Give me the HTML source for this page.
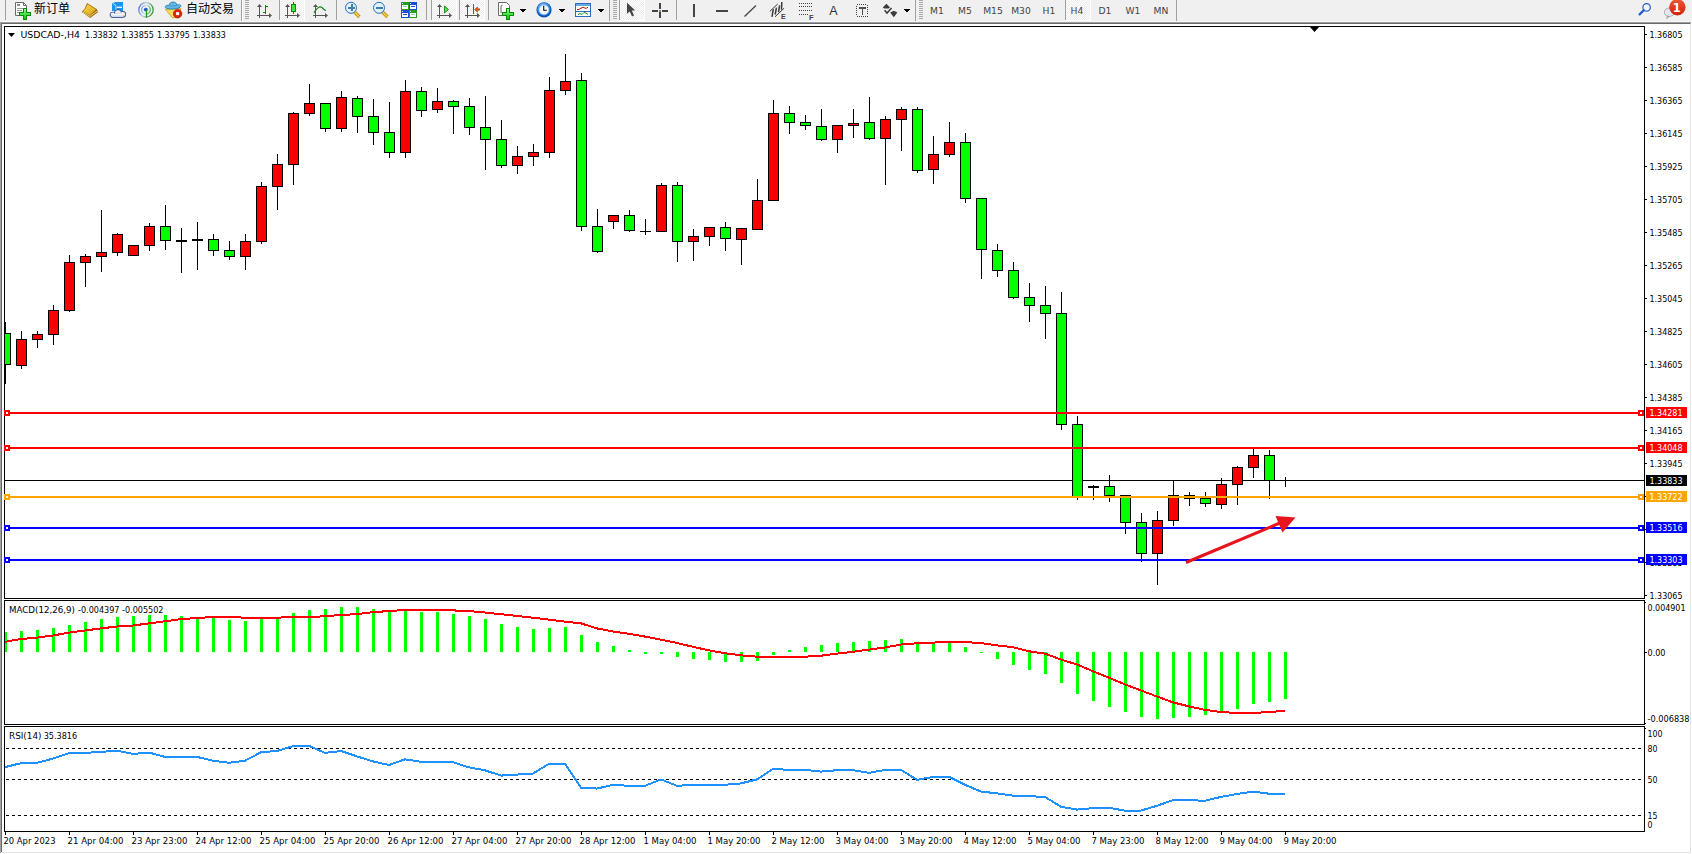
<!DOCTYPE html><html><head><meta charset="utf-8"><title>USDCAD-,H4</title><style>html,body{margin:0;padding:0;background:#fff;overflow:hidden;}svg{display:block;}text{font-family:"DejaVu Sans", "Liberation Sans", sans-serif;font-stretch:condensed;}.t{font-size:9.5px;fill:#000;}.tw{font-size:9.5px;fill:#fff;}.tb{font-size:9.5px;fill:#222;}</style></head><body>
<svg width="1692" height="854" viewBox="0 0 1692 854" shape-rendering="crispEdges">
<rect x="0" y="0" width="1692" height="854" fill="#fff"/>
<rect x="0" y="0" width="1692" height="21" fill="#f0f0f0"/>
<rect x="0" y="21" width="1692" height="1" fill="#f5f5f5"/>
<rect x="0" y="22" width="1691" height="1" fill="#a0a0a0"/>
<rect x="0" y="23" width="1690" height="1" fill="#696969"/>
<rect x="1690" y="23" width="1" height="1" fill="#b0b0b0"/>
<rect x="0" y="22" width="1" height="831" fill="#a0a0a0"/>
<rect x="1" y="23" width="1" height="829" fill="#696969"/>
<rect x="1690" y="24" width="1" height="829" fill="#e3e3e3"/>
<rect x="2" y="852" width="1689" height="1" fill="#e3e3e3"/>
<rect x="4" y="26" width="1641" height="1" fill="#000"/>
<rect x="4" y="598" width="1641" height="1" fill="#000"/>
<rect x="4" y="26" width="1" height="573" fill="#000"/>
<rect x="1644" y="26" width="1" height="573" fill="#000"/>
<rect x="4" y="600" width="1641" height="1" fill="#000"/>
<rect x="4" y="724" width="1641" height="1" fill="#000"/>
<rect x="4" y="600" width="1" height="125" fill="#000"/>
<rect x="1644" y="600" width="1" height="125" fill="#000"/>
<rect x="4" y="726" width="1641" height="1" fill="#000"/>
<rect x="4" y="831" width="1641" height="1" fill="#000"/>
<rect x="4" y="726" width="1" height="106" fill="#000"/>
<rect x="1644" y="726" width="1" height="106" fill="#000"/>
<defs><clipPath id="cm"><rect x="5" y="27" width="1639" height="571"/></clipPath><clipPath id="cd"><rect x="5" y="601" width="1639" height="123"/></clipPath><clipPath id="cr"><rect x="5" y="727" width="1639" height="104"/></clipPath></defs>
<g clip-path="url(#cm)">
<rect x="5" y="480" width="1639" height="1" fill="#000"/>
<rect x="5" y="322" width="1" height="62" fill="#000"/>
<rect x="0" y="333" width="11" height="32" fill="#000"/>
<rect x="1" y="334" width="9" height="30" fill="#00ff00"/>
<rect x="21" y="331" width="1" height="38" fill="#000"/>
<rect x="16" y="339" width="11" height="27" fill="#000"/>
<rect x="17" y="340" width="9" height="25" fill="#ff0000"/>
<rect x="37" y="331" width="1" height="17" fill="#000"/>
<rect x="32" y="334" width="11" height="6" fill="#000"/>
<rect x="33" y="335" width="9" height="4" fill="#ff0000"/>
<rect x="53" y="305" width="1" height="40" fill="#000"/>
<rect x="48" y="310" width="11" height="25" fill="#000"/>
<rect x="49" y="311" width="9" height="23" fill="#ff0000"/>
<rect x="69" y="255" width="1" height="57" fill="#000"/>
<rect x="64" y="262" width="11" height="49" fill="#000"/>
<rect x="65" y="263" width="9" height="47" fill="#ff0000"/>
<rect x="85" y="254" width="1" height="33" fill="#000"/>
<rect x="80" y="256" width="11" height="7" fill="#000"/>
<rect x="81" y="257" width="9" height="5" fill="#ff0000"/>
<rect x="101" y="210" width="1" height="62" fill="#000"/>
<rect x="96" y="252" width="11" height="5" fill="#000"/>
<rect x="97" y="253" width="9" height="3" fill="#ff0000"/>
<rect x="117" y="233" width="1" height="23" fill="#000"/>
<rect x="112" y="234" width="11" height="19" fill="#000"/>
<rect x="113" y="235" width="9" height="17" fill="#ff0000"/>
<rect x="133" y="245" width="1" height="11" fill="#000"/>
<rect x="128" y="245" width="11" height="11" fill="#000"/>
<rect x="129" y="246" width="9" height="9" fill="#ff0000"/>
<rect x="149" y="223" width="1" height="28" fill="#000"/>
<rect x="144" y="226" width="11" height="20" fill="#000"/>
<rect x="145" y="227" width="9" height="18" fill="#ff0000"/>
<rect x="165" y="205" width="1" height="45" fill="#000"/>
<rect x="160" y="226" width="11" height="15" fill="#000"/>
<rect x="161" y="227" width="9" height="13" fill="#00ff00"/>
<rect x="181" y="228" width="1" height="45" fill="#000"/>
<rect x="176" y="240" width="11" height="2" fill="#000"/>
<rect x="197" y="222" width="1" height="48" fill="#000"/>
<rect x="192" y="239" width="11" height="2" fill="#000"/>
<rect x="213" y="234" width="1" height="22" fill="#000"/>
<rect x="208" y="239" width="11" height="12" fill="#000"/>
<rect x="209" y="240" width="9" height="10" fill="#00ff00"/>
<rect x="229" y="241" width="1" height="19" fill="#000"/>
<rect x="224" y="250" width="11" height="7" fill="#000"/>
<rect x="225" y="251" width="9" height="5" fill="#00ff00"/>
<rect x="245" y="234" width="1" height="36" fill="#000"/>
<rect x="240" y="241" width="11" height="16" fill="#000"/>
<rect x="241" y="242" width="9" height="14" fill="#ff0000"/>
<rect x="261" y="182" width="1" height="62" fill="#000"/>
<rect x="256" y="186" width="11" height="56" fill="#000"/>
<rect x="257" y="187" width="9" height="54" fill="#ff0000"/>
<rect x="277" y="154" width="1" height="56" fill="#000"/>
<rect x="272" y="164" width="11" height="23" fill="#000"/>
<rect x="273" y="165" width="9" height="21" fill="#ff0000"/>
<rect x="293" y="112" width="1" height="73" fill="#000"/>
<rect x="288" y="113" width="11" height="52" fill="#000"/>
<rect x="289" y="114" width="9" height="50" fill="#ff0000"/>
<rect x="309" y="84" width="1" height="32" fill="#000"/>
<rect x="304" y="103" width="11" height="11" fill="#000"/>
<rect x="305" y="104" width="9" height="9" fill="#ff0000"/>
<rect x="325" y="103" width="1" height="29" fill="#000"/>
<rect x="320" y="103" width="11" height="26" fill="#000"/>
<rect x="321" y="104" width="9" height="24" fill="#00ff00"/>
<rect x="341" y="91" width="1" height="41" fill="#000"/>
<rect x="336" y="97" width="11" height="32" fill="#000"/>
<rect x="337" y="98" width="9" height="30" fill="#ff0000"/>
<rect x="357" y="96" width="1" height="37" fill="#000"/>
<rect x="352" y="98" width="11" height="19" fill="#000"/>
<rect x="353" y="99" width="9" height="17" fill="#00ff00"/>
<rect x="373" y="99" width="1" height="46" fill="#000"/>
<rect x="368" y="116" width="11" height="17" fill="#000"/>
<rect x="369" y="117" width="9" height="15" fill="#00ff00"/>
<rect x="389" y="102" width="1" height="56" fill="#000"/>
<rect x="384" y="132" width="11" height="21" fill="#000"/>
<rect x="385" y="133" width="9" height="19" fill="#00ff00"/>
<rect x="405" y="80" width="1" height="78" fill="#000"/>
<rect x="400" y="91" width="11" height="62" fill="#000"/>
<rect x="401" y="92" width="9" height="60" fill="#ff0000"/>
<rect x="421" y="87" width="1" height="30" fill="#000"/>
<rect x="416" y="91" width="11" height="20" fill="#000"/>
<rect x="417" y="92" width="9" height="18" fill="#00ff00"/>
<rect x="437" y="88" width="1" height="25" fill="#000"/>
<rect x="432" y="101" width="11" height="9" fill="#000"/>
<rect x="433" y="102" width="9" height="7" fill="#ff0000"/>
<rect x="453" y="100" width="1" height="34" fill="#000"/>
<rect x="448" y="101" width="11" height="6" fill="#000"/>
<rect x="449" y="102" width="9" height="4" fill="#00ff00"/>
<rect x="469" y="98" width="1" height="37" fill="#000"/>
<rect x="464" y="106" width="11" height="22" fill="#000"/>
<rect x="465" y="107" width="9" height="20" fill="#00ff00"/>
<rect x="485" y="96" width="1" height="74" fill="#000"/>
<rect x="480" y="127" width="11" height="13" fill="#000"/>
<rect x="481" y="128" width="9" height="11" fill="#00ff00"/>
<rect x="501" y="120" width="1" height="48" fill="#000"/>
<rect x="496" y="139" width="11" height="27" fill="#000"/>
<rect x="497" y="140" width="9" height="25" fill="#00ff00"/>
<rect x="517" y="146" width="1" height="28" fill="#000"/>
<rect x="512" y="156" width="11" height="10" fill="#000"/>
<rect x="513" y="157" width="9" height="8" fill="#ff0000"/>
<rect x="533" y="144" width="1" height="22" fill="#000"/>
<rect x="528" y="152" width="11" height="5" fill="#000"/>
<rect x="529" y="153" width="9" height="3" fill="#ff0000"/>
<rect x="549" y="77" width="1" height="81" fill="#000"/>
<rect x="544" y="90" width="11" height="63" fill="#000"/>
<rect x="545" y="91" width="9" height="61" fill="#ff0000"/>
<rect x="565" y="54" width="1" height="41" fill="#000"/>
<rect x="560" y="81" width="11" height="10" fill="#000"/>
<rect x="561" y="82" width="9" height="8" fill="#ff0000"/>
<rect x="581" y="73" width="1" height="158" fill="#000"/>
<rect x="576" y="80" width="11" height="147" fill="#000"/>
<rect x="577" y="81" width="9" height="145" fill="#00ff00"/>
<rect x="597" y="209" width="1" height="44" fill="#000"/>
<rect x="592" y="226" width="11" height="26" fill="#000"/>
<rect x="593" y="227" width="9" height="24" fill="#00ff00"/>
<rect x="613" y="215" width="1" height="14" fill="#000"/>
<rect x="608" y="215" width="11" height="7" fill="#000"/>
<rect x="609" y="216" width="9" height="5" fill="#ff0000"/>
<rect x="629" y="210" width="1" height="22" fill="#000"/>
<rect x="624" y="215" width="11" height="16" fill="#000"/>
<rect x="625" y="216" width="9" height="14" fill="#00ff00"/>
<rect x="645" y="219" width="1" height="16" fill="#000"/>
<rect x="640" y="231" width="11" height="1" fill="#000"/>
<rect x="661" y="183" width="1" height="49" fill="#000"/>
<rect x="656" y="185" width="11" height="47" fill="#000"/>
<rect x="657" y="186" width="9" height="45" fill="#ff0000"/>
<rect x="677" y="182" width="1" height="80" fill="#000"/>
<rect x="672" y="185" width="11" height="57" fill="#000"/>
<rect x="673" y="186" width="9" height="55" fill="#00ff00"/>
<rect x="693" y="229" width="1" height="32" fill="#000"/>
<rect x="688" y="236" width="11" height="6" fill="#000"/>
<rect x="689" y="237" width="9" height="4" fill="#ff0000"/>
<rect x="709" y="227" width="1" height="19" fill="#000"/>
<rect x="704" y="227" width="11" height="10" fill="#000"/>
<rect x="705" y="228" width="9" height="8" fill="#ff0000"/>
<rect x="725" y="222" width="1" height="29" fill="#000"/>
<rect x="720" y="227" width="11" height="12" fill="#000"/>
<rect x="721" y="228" width="9" height="10" fill="#00ff00"/>
<rect x="741" y="228" width="1" height="37" fill="#000"/>
<rect x="736" y="228" width="11" height="12" fill="#000"/>
<rect x="737" y="229" width="9" height="10" fill="#ff0000"/>
<rect x="757" y="179" width="1" height="51" fill="#000"/>
<rect x="752" y="200" width="11" height="30" fill="#000"/>
<rect x="753" y="201" width="9" height="28" fill="#ff0000"/>
<rect x="773" y="100" width="1" height="101" fill="#000"/>
<rect x="768" y="113" width="11" height="88" fill="#000"/>
<rect x="769" y="114" width="9" height="86" fill="#ff0000"/>
<rect x="789" y="106" width="1" height="28" fill="#000"/>
<rect x="784" y="113" width="11" height="10" fill="#000"/>
<rect x="785" y="114" width="9" height="8" fill="#00ff00"/>
<rect x="805" y="115" width="1" height="15" fill="#000"/>
<rect x="800" y="122" width="11" height="4" fill="#000"/>
<rect x="801" y="123" width="9" height="2" fill="#00ff00"/>
<rect x="821" y="109" width="1" height="32" fill="#000"/>
<rect x="816" y="126" width="11" height="14" fill="#000"/>
<rect x="817" y="127" width="9" height="12" fill="#00ff00"/>
<rect x="837" y="125" width="1" height="28" fill="#000"/>
<rect x="832" y="125" width="11" height="15" fill="#000"/>
<rect x="833" y="126" width="9" height="13" fill="#ff0000"/>
<rect x="853" y="109" width="1" height="29" fill="#000"/>
<rect x="848" y="123" width="11" height="3" fill="#000"/>
<rect x="849" y="124" width="9" height="1" fill="#ff0000"/>
<rect x="869" y="97" width="1" height="43" fill="#000"/>
<rect x="864" y="122" width="11" height="17" fill="#000"/>
<rect x="865" y="123" width="9" height="15" fill="#00ff00"/>
<rect x="885" y="116" width="1" height="69" fill="#000"/>
<rect x="880" y="119" width="11" height="20" fill="#000"/>
<rect x="881" y="120" width="9" height="18" fill="#ff0000"/>
<rect x="901" y="107" width="1" height="44" fill="#000"/>
<rect x="896" y="109" width="11" height="11" fill="#000"/>
<rect x="897" y="110" width="9" height="9" fill="#ff0000"/>
<rect x="917" y="107" width="1" height="66" fill="#000"/>
<rect x="912" y="109" width="11" height="62" fill="#000"/>
<rect x="913" y="110" width="9" height="60" fill="#00ff00"/>
<rect x="933" y="136" width="1" height="48" fill="#000"/>
<rect x="928" y="154" width="11" height="16" fill="#000"/>
<rect x="929" y="155" width="9" height="14" fill="#ff0000"/>
<rect x="949" y="122" width="1" height="35" fill="#000"/>
<rect x="944" y="142" width="11" height="13" fill="#000"/>
<rect x="945" y="143" width="9" height="11" fill="#ff0000"/>
<rect x="965" y="133" width="1" height="70" fill="#000"/>
<rect x="960" y="142" width="11" height="57" fill="#000"/>
<rect x="961" y="143" width="9" height="55" fill="#00ff00"/>
<rect x="981" y="198" width="1" height="81" fill="#000"/>
<rect x="976" y="198" width="11" height="52" fill="#000"/>
<rect x="977" y="199" width="9" height="50" fill="#00ff00"/>
<rect x="997" y="244" width="1" height="33" fill="#000"/>
<rect x="992" y="250" width="11" height="21" fill="#000"/>
<rect x="993" y="251" width="9" height="19" fill="#00ff00"/>
<rect x="1013" y="262" width="1" height="37" fill="#000"/>
<rect x="1008" y="270" width="11" height="28" fill="#000"/>
<rect x="1009" y="271" width="9" height="26" fill="#00ff00"/>
<rect x="1029" y="283" width="1" height="39" fill="#000"/>
<rect x="1024" y="297" width="11" height="9" fill="#000"/>
<rect x="1025" y="298" width="9" height="7" fill="#00ff00"/>
<rect x="1045" y="286" width="1" height="53" fill="#000"/>
<rect x="1040" y="305" width="11" height="9" fill="#000"/>
<rect x="1041" y="306" width="9" height="7" fill="#00ff00"/>
<rect x="1061" y="292" width="1" height="138" fill="#000"/>
<rect x="1056" y="313" width="11" height="112" fill="#000"/>
<rect x="1057" y="314" width="9" height="110" fill="#00ff00"/>
<rect x="1077" y="416" width="1" height="84" fill="#000"/>
<rect x="1072" y="424" width="11" height="73" fill="#000"/>
<rect x="1073" y="425" width="9" height="71" fill="#00ff00"/>
<rect x="1093" y="485" width="1" height="15" fill="#000"/>
<rect x="1088" y="486" width="11" height="2" fill="#000"/>
<rect x="1109" y="475" width="1" height="27" fill="#000"/>
<rect x="1104" y="486" width="11" height="10" fill="#000"/>
<rect x="1105" y="487" width="9" height="8" fill="#00ff00"/>
<rect x="1125" y="495" width="1" height="39" fill="#000"/>
<rect x="1120" y="495" width="11" height="28" fill="#000"/>
<rect x="1121" y="496" width="9" height="26" fill="#00ff00"/>
<rect x="1141" y="513" width="1" height="49" fill="#000"/>
<rect x="1136" y="522" width="11" height="32" fill="#000"/>
<rect x="1137" y="523" width="9" height="30" fill="#00ff00"/>
<rect x="1157" y="511" width="1" height="74" fill="#000"/>
<rect x="1152" y="520" width="11" height="34" fill="#000"/>
<rect x="1153" y="521" width="9" height="32" fill="#ff0000"/>
<rect x="1173" y="480" width="1" height="46" fill="#000"/>
<rect x="1168" y="495" width="11" height="26" fill="#000"/>
<rect x="1169" y="496" width="9" height="24" fill="#ff0000"/>
<rect x="1189" y="492" width="1" height="14" fill="#000"/>
<rect x="1184" y="495" width="11" height="4" fill="#000"/>
<rect x="1185" y="496" width="9" height="2" fill="#ff0000"/>
<rect x="1205" y="492" width="1" height="15" fill="#000"/>
<rect x="1200" y="498" width="11" height="6" fill="#000"/>
<rect x="1201" y="499" width="9" height="4" fill="#00ff00"/>
<rect x="1221" y="478" width="1" height="31" fill="#000"/>
<rect x="1216" y="484" width="11" height="21" fill="#000"/>
<rect x="1217" y="485" width="9" height="19" fill="#ff0000"/>
<rect x="1237" y="466" width="1" height="39" fill="#000"/>
<rect x="1232" y="467" width="11" height="18" fill="#000"/>
<rect x="1233" y="468" width="9" height="16" fill="#ff0000"/>
<rect x="1253" y="449" width="1" height="29" fill="#000"/>
<rect x="1248" y="455" width="11" height="13" fill="#000"/>
<rect x="1249" y="456" width="9" height="11" fill="#ff0000"/>
<rect x="1269" y="450" width="1" height="49" fill="#000"/>
<rect x="1264" y="455" width="11" height="26" fill="#000"/>
<rect x="1265" y="456" width="9" height="24" fill="#00ff00"/>
<rect x="1285" y="477" width="1" height="10" fill="#000"/>
<rect x="1280" y="480" width="11" height="1" fill="#000"/>
<rect x="5" y="412" width="1639" height="2" fill="#ff0000"/>
<rect x="5" y="447" width="1639" height="2" fill="#ff0000"/>
<rect x="5" y="496" width="1639" height="2" fill="#ffa500"/>
<rect x="5" y="527" width="1639" height="2" fill="#0000ff"/>
<rect x="5" y="559" width="1639" height="2" fill="#0000ff"/>
<rect x="4" y="410" width="6" height="6" fill="#ff0000"/>
<rect x="6" y="412" width="2" height="2" fill="#fff"/>
<rect x="1638" y="410" width="6" height="6" fill="#ff0000"/>
<rect x="1640" y="412" width="2" height="2" fill="#fff"/>
<rect x="4" y="445" width="6" height="6" fill="#ff0000"/>
<rect x="6" y="447" width="2" height="2" fill="#fff"/>
<rect x="1638" y="445" width="6" height="6" fill="#ff0000"/>
<rect x="1640" y="447" width="2" height="2" fill="#fff"/>
<rect x="4" y="494" width="6" height="6" fill="#ffa500"/>
<rect x="6" y="496" width="2" height="2" fill="#fff"/>
<rect x="1638" y="494" width="6" height="6" fill="#ffa500"/>
<rect x="1640" y="496" width="2" height="2" fill="#fff"/>
<rect x="4" y="525" width="6" height="6" fill="#0000ff"/>
<rect x="6" y="527" width="2" height="2" fill="#fff"/>
<rect x="1638" y="525" width="6" height="6" fill="#0000ff"/>
<rect x="1640" y="527" width="2" height="2" fill="#fff"/>
<rect x="4" y="557" width="6" height="6" fill="#0000ff"/>
<rect x="6" y="559" width="2" height="2" fill="#fff"/>
<rect x="1638" y="557" width="6" height="6" fill="#0000ff"/>
<rect x="1640" y="559" width="2" height="2" fill="#fff"/>
</g>
<rect x="4" y="410" width="6" height="6" fill="#ff0000"/>
<rect x="6" y="412" width="2" height="2" fill="#fff"/>
<rect x="4" y="445" width="6" height="6" fill="#ff0000"/>
<rect x="6" y="447" width="2" height="2" fill="#fff"/>
<rect x="4" y="494" width="6" height="6" fill="#ffa500"/>
<rect x="6" y="496" width="2" height="2" fill="#fff"/>
<rect x="4" y="525" width="6" height="6" fill="#0000ff"/>
<rect x="6" y="527" width="2" height="2" fill="#fff"/>
<rect x="4" y="557" width="6" height="6" fill="#0000ff"/>
<rect x="6" y="559" width="2" height="2" fill="#fff"/>
<g shape-rendering="geometricPrecision">
<line x1="1186" y1="562.5" x2="1281" y2="522.5" stroke="#e8141c" stroke-width="3"/>
<polygon points="1275.5,516 1295.5,517.5 1282.5,532.5" fill="#e8141c"/>
</g>
<polygon points="1309.5,26.5 1319.5,26.5 1314.5,32" fill="#000" shape-rendering="geometricPrecision"/>
<polygon points="8,33 15,33 11.5,37" fill="#000" shape-rendering="geometricPrecision"/>
<text x="20.4" y="38" class="t" textLength="59.5" lengthAdjust="spacingAndGlyphs">USDCAD-,H4</text>
<text x="84.9" y="38" class="t" textLength="33" lengthAdjust="spacingAndGlyphs">1.33832</text>
<text x="120.9" y="38" class="t" textLength="33" lengthAdjust="spacingAndGlyphs">1.33855</text>
<text x="156.9" y="38" class="t" textLength="33" lengthAdjust="spacingAndGlyphs">1.33795</text>
<text x="192.9" y="38" class="t" textLength="33" lengthAdjust="spacingAndGlyphs">1.33833</text>
<rect x="1645" y="34" width="2" height="1" fill="#000"/>
<text x="1649.5" y="38" class="t" textLength="33" lengthAdjust="spacingAndGlyphs">1.36805</text>
<rect x="1645" y="67" width="2" height="1" fill="#000"/>
<text x="1649.5" y="71" class="t" textLength="33" lengthAdjust="spacingAndGlyphs">1.36585</text>
<rect x="1645" y="100" width="2" height="1" fill="#000"/>
<text x="1649.5" y="104" class="t" textLength="33" lengthAdjust="spacingAndGlyphs">1.36365</text>
<rect x="1645" y="133" width="2" height="1" fill="#000"/>
<text x="1649.5" y="137" class="t" textLength="33" lengthAdjust="spacingAndGlyphs">1.36145</text>
<rect x="1645" y="166" width="2" height="1" fill="#000"/>
<text x="1649.5" y="170" class="t" textLength="33" lengthAdjust="spacingAndGlyphs">1.35925</text>
<rect x="1645" y="199" width="2" height="1" fill="#000"/>
<text x="1649.5" y="203" class="t" textLength="33" lengthAdjust="spacingAndGlyphs">1.35705</text>
<rect x="1645" y="232" width="2" height="1" fill="#000"/>
<text x="1649.5" y="236" class="t" textLength="33" lengthAdjust="spacingAndGlyphs">1.35485</text>
<rect x="1645" y="265" width="2" height="1" fill="#000"/>
<text x="1649.5" y="269" class="t" textLength="33" lengthAdjust="spacingAndGlyphs">1.35265</text>
<rect x="1645" y="298" width="2" height="1" fill="#000"/>
<text x="1649.5" y="302" class="t" textLength="33" lengthAdjust="spacingAndGlyphs">1.35045</text>
<rect x="1645" y="331" width="2" height="1" fill="#000"/>
<text x="1649.5" y="335" class="t" textLength="33" lengthAdjust="spacingAndGlyphs">1.34825</text>
<rect x="1645" y="364" width="2" height="1" fill="#000"/>
<text x="1649.5" y="368" class="t" textLength="33" lengthAdjust="spacingAndGlyphs">1.34605</text>
<rect x="1645" y="397" width="2" height="1" fill="#000"/>
<text x="1649.5" y="401" class="t" textLength="33" lengthAdjust="spacingAndGlyphs">1.34385</text>
<rect x="1645" y="430" width="2" height="1" fill="#000"/>
<text x="1649.5" y="434" class="t" textLength="33" lengthAdjust="spacingAndGlyphs">1.34165</text>
<rect x="1645" y="463" width="2" height="1" fill="#000"/>
<text x="1649.5" y="467" class="t" textLength="33" lengthAdjust="spacingAndGlyphs">1.33945</text>
<rect x="1645" y="496" width="2" height="1" fill="#000"/>
<text x="1649.5" y="500" class="t" textLength="33" lengthAdjust="spacingAndGlyphs">1.33725</text>
<rect x="1645" y="529" width="2" height="1" fill="#000"/>
<text x="1649.5" y="533" class="t" textLength="33" lengthAdjust="spacingAndGlyphs">1.33505</text>
<rect x="1645" y="562" width="2" height="1" fill="#000"/>
<text x="1649.5" y="566" class="t" textLength="33" lengthAdjust="spacingAndGlyphs">1.33285</text>
<rect x="1645" y="595" width="2" height="1" fill="#000"/>
<text x="1649.5" y="599" class="t" textLength="33" lengthAdjust="spacingAndGlyphs">1.33065</text>
<rect x="1646" y="407" width="41" height="11" fill="#ff0000"/>
<text x="1649.5" y="416" class="tw" textLength="33" lengthAdjust="spacingAndGlyphs">1.34281</text>
<rect x="1646" y="442" width="41" height="11" fill="#ff0000"/>
<text x="1649.5" y="451" class="tw" textLength="33" lengthAdjust="spacingAndGlyphs">1.34048</text>
<rect x="1646" y="475" width="41" height="11" fill="#000000"/>
<text x="1649.5" y="484" class="tw" textLength="33" lengthAdjust="spacingAndGlyphs">1.33833</text>
<rect x="1646" y="491" width="41" height="11" fill="#ffa500"/>
<text x="1649.5" y="500" class="tw" textLength="33" lengthAdjust="spacingAndGlyphs">1.33722</text>
<rect x="1646" y="522" width="41" height="11" fill="#0000ff"/>
<text x="1649.5" y="531" class="tw" textLength="33" lengthAdjust="spacingAndGlyphs">1.33516</text>
<rect x="1646" y="554" width="41" height="11" fill="#0000ff"/>
<text x="1649.5" y="563" class="tw" textLength="33" lengthAdjust="spacingAndGlyphs">1.33303</text>
<g clip-path="url(#cd)">
<rect x="4" y="632" width="3" height="20" fill="#00ff00"/>
<rect x="20" y="631" width="3" height="21" fill="#00ff00"/>
<rect x="36" y="630" width="3" height="22" fill="#00ff00"/>
<rect x="52" y="628" width="3" height="24" fill="#00ff00"/>
<rect x="68" y="625" width="3" height="27" fill="#00ff00"/>
<rect x="84" y="622" width="3" height="30" fill="#00ff00"/>
<rect x="100" y="619" width="3" height="33" fill="#00ff00"/>
<rect x="116" y="617" width="3" height="35" fill="#00ff00"/>
<rect x="132" y="616" width="3" height="36" fill="#00ff00"/>
<rect x="148" y="615" width="3" height="37" fill="#00ff00"/>
<rect x="164" y="615" width="3" height="37" fill="#00ff00"/>
<rect x="180" y="616" width="3" height="36" fill="#00ff00"/>
<rect x="196" y="617" width="3" height="35" fill="#00ff00"/>
<rect x="212" y="618" width="3" height="34" fill="#00ff00"/>
<rect x="228" y="620" width="3" height="32" fill="#00ff00"/>
<rect x="244" y="621" width="3" height="31" fill="#00ff00"/>
<rect x="260" y="619" width="3" height="33" fill="#00ff00"/>
<rect x="276" y="619" width="3" height="33" fill="#00ff00"/>
<rect x="292" y="613" width="3" height="39" fill="#00ff00"/>
<rect x="308" y="610" width="3" height="42" fill="#00ff00"/>
<rect x="324" y="609" width="3" height="43" fill="#00ff00"/>
<rect x="340" y="607" width="3" height="45" fill="#00ff00"/>
<rect x="356" y="607" width="3" height="45" fill="#00ff00"/>
<rect x="372" y="609" width="3" height="43" fill="#00ff00"/>
<rect x="388" y="612" width="3" height="40" fill="#00ff00"/>
<rect x="404" y="611" width="3" height="41" fill="#00ff00"/>
<rect x="420" y="612" width="3" height="40" fill="#00ff00"/>
<rect x="436" y="612" width="3" height="40" fill="#00ff00"/>
<rect x="452" y="614" width="3" height="38" fill="#00ff00"/>
<rect x="468" y="616" width="3" height="36" fill="#00ff00"/>
<rect x="484" y="619" width="3" height="33" fill="#00ff00"/>
<rect x="500" y="624" width="3" height="28" fill="#00ff00"/>
<rect x="516" y="627" width="3" height="25" fill="#00ff00"/>
<rect x="532" y="629" width="3" height="23" fill="#00ff00"/>
<rect x="548" y="628" width="3" height="24" fill="#00ff00"/>
<rect x="564" y="627" width="3" height="25" fill="#00ff00"/>
<rect x="580" y="635" width="3" height="17" fill="#00ff00"/>
<rect x="596" y="642" width="3" height="10" fill="#00ff00"/>
<rect x="612" y="646" width="3" height="6" fill="#00ff00"/>
<rect x="628" y="650" width="3" height="2" fill="#00ff00"/>
<rect x="644" y="652" width="3" height="2" fill="#00ff00"/>
<rect x="660" y="652" width="3" height="2" fill="#00ff00"/>
<rect x="676" y="652" width="3" height="5" fill="#00ff00"/>
<rect x="692" y="652" width="3" height="7" fill="#00ff00"/>
<rect x="708" y="652" width="3" height="8" fill="#00ff00"/>
<rect x="724" y="652" width="3" height="10" fill="#00ff00"/>
<rect x="740" y="652" width="3" height="10" fill="#00ff00"/>
<rect x="756" y="652" width="3" height="9" fill="#00ff00"/>
<rect x="772" y="652" width="3" height="3" fill="#00ff00"/>
<rect x="788" y="650" width="3" height="2" fill="#00ff00"/>
<rect x="804" y="647" width="3" height="5" fill="#00ff00"/>
<rect x="820" y="645" width="3" height="7" fill="#00ff00"/>
<rect x="836" y="643" width="3" height="9" fill="#00ff00"/>
<rect x="852" y="642" width="3" height="10" fill="#00ff00"/>
<rect x="868" y="641" width="3" height="11" fill="#00ff00"/>
<rect x="884" y="640" width="3" height="12" fill="#00ff00"/>
<rect x="900" y="639" width="3" height="13" fill="#00ff00"/>
<rect x="916" y="642" width="3" height="10" fill="#00ff00"/>
<rect x="932" y="642" width="3" height="10" fill="#00ff00"/>
<rect x="948" y="642" width="3" height="10" fill="#00ff00"/>
<rect x="964" y="647" width="3" height="5" fill="#00ff00"/>
<rect x="980" y="652" width="3" height="1" fill="#00ff00"/>
<rect x="996" y="652" width="3" height="7" fill="#00ff00"/>
<rect x="1012" y="652" width="3" height="13" fill="#00ff00"/>
<rect x="1028" y="652" width="3" height="18" fill="#00ff00"/>
<rect x="1044" y="652" width="3" height="22" fill="#00ff00"/>
<rect x="1060" y="652" width="3" height="31" fill="#00ff00"/>
<rect x="1076" y="652" width="3" height="42" fill="#00ff00"/>
<rect x="1092" y="652" width="3" height="49" fill="#00ff00"/>
<rect x="1108" y="652" width="3" height="55" fill="#00ff00"/>
<rect x="1124" y="652" width="3" height="60" fill="#00ff00"/>
<rect x="1140" y="652" width="3" height="65" fill="#00ff00"/>
<rect x="1156" y="652" width="3" height="67" fill="#00ff00"/>
<rect x="1172" y="652" width="3" height="66" fill="#00ff00"/>
<rect x="1188" y="652" width="3" height="65" fill="#00ff00"/>
<rect x="1204" y="652" width="3" height="63" fill="#00ff00"/>
<rect x="1220" y="652" width="3" height="60" fill="#00ff00"/>
<rect x="1236" y="652" width="3" height="57" fill="#00ff00"/>
<rect x="1252" y="652" width="3" height="52" fill="#00ff00"/>
<rect x="1268" y="652" width="3" height="50" fill="#00ff00"/>
<rect x="1284" y="652" width="3" height="47" fill="#00ff00"/>
<polyline points="5,641.8 21,639.0 37,637.6 53,635.5 69,632.6 85,630.5 101,628.4 117,626.5 133,625.5 149,623.4 165,621.3 181,619.1 197,618.0 213,617.0 229,617.0 245,617.7 261,617.7 277,617.7 293,617.0 309,617.0 325,616.3 341,614.9 357,614.2 373,612.1 389,611.1 405,609.9 421,609.9 437,609.9 453,610.4 469,611.1 485,612.5 501,614.2 517,615.9 533,617.7 549,619.6 565,621.6 581,623.4 597,628.4 613,631.5 629,633.8 645,636.6 661,639.7 677,643.0 693,646.8 709,650.4 725,653.2 741,655.3 757,656.7 773,656.7 789,656.7 805,656.7 821,655.7 837,653.6 853,651.8 869,649.6 885,647.5 901,644.5 917,643.3 933,642.6 949,641.8 965,642.1 981,643.0 997,645.4 1013,647.2 1029,651.3 1045,653.6 1061,659.6 1077,664.5 1093,671.3 1109,677.7 1125,684.4 1141,690.5 1157,696.5 1173,702.4 1189,706.4 1205,709.9 1221,712.0 1237,713.0 1253,713.0 1269,712.0 1285,710.9" fill="none" stroke="#ff0000" stroke-width="2"/>
</g>
<text x="9" y="613" class="t" textLength="66" lengthAdjust="spacingAndGlyphs">MACD(12,26,9)</text>
<text x="78" y="613" class="t" textLength="41.5" lengthAdjust="spacingAndGlyphs">-0.004397</text>
<text x="122" y="613" class="t" textLength="41.5" lengthAdjust="spacingAndGlyphs">-0.005502</text>
<text x="1647.5" y="611" class="t" textLength="38" lengthAdjust="spacingAndGlyphs">0.004901</text>
<rect x="1645" y="602" width="1" height="1" fill="#000"/>
<rect x="1645" y="723" width="1" height="1" fill="#000"/>
<rect x="1645" y="728" width="1" height="1" fill="#000"/>
<rect x="1645" y="652" width="2" height="1" fill="#000"/>
<text x="1647.5" y="656" class="t" textLength="18" lengthAdjust="spacingAndGlyphs">0.00</text>
<text x="1647.5" y="722" class="t" textLength="42" lengthAdjust="spacingAndGlyphs">-0.006838</text>
<g clip-path="url(#cr)">
<line x1="6" y1="748.5" x2="1644" y2="748.5" stroke="#000" stroke-width="1" stroke-dasharray="3 3"/>
<line x1="6" y1="779.5" x2="1644" y2="779.5" stroke="#000" stroke-width="1" stroke-dasharray="3 3"/>
<line x1="6" y1="815.5" x2="1644" y2="815.5" stroke="#000" stroke-width="1" stroke-dasharray="3 3"/>
<polyline points="5,767.1 21,763.2 37,762.8 53,758.6 69,753.2 85,752.9 101,751.8 117,750.8 133,753.9 149,752.6 165,756.9 181,756.9 197,756.9 213,760.7 229,762.8 245,760.7 261,752.2 277,751.0 293,746.2 309,745.8 325,752.9 341,751.0 357,756.4 373,761.4 389,765.0 405,759.3 421,761.8 437,761.8 453,762.2 469,767.4 485,770.3 501,775.6 517,774.6 533,773.5 549,763.8 565,763.8 581,787.6 597,788.6 613,784.8 629,785.8 645,785.8 661,779.4 677,785.8 693,784.8 709,784.8 725,784.8 741,783.4 757,779.4 773,768.9 789,769.9 805,769.9 821,771.6 837,770.2 853,770.2 869,772.8 885,769.9 901,769.9 917,779.8 933,777.0 949,776.6 965,784.8 981,791.6 997,793.3 1013,795.7 1029,796.2 1045,796.9 1061,806.8 1077,809.6 1093,808.2 1109,807.9 1125,810.6 1141,810.6 1157,805.8 1173,800.1 1189,800.1 1205,800.8 1221,796.9 1237,794.0 1253,791.6 1269,793.7 1285,793.7" fill="none" stroke="#1e90ff" stroke-width="2"/>
</g>
<text x="9" y="739" class="t" textLength="32.5" lengthAdjust="spacingAndGlyphs">RSI(14)</text>
<text x="43.7" y="739" class="t" textLength="33.5" lengthAdjust="spacingAndGlyphs">35.3816</text>
<text x="1647.5" y="737" class="t" textLength="15" lengthAdjust="spacingAndGlyphs">100</text>
<text x="1647.5" y="752" class="t" textLength="10" lengthAdjust="spacingAndGlyphs">80</text>
<text x="1647.5" y="783" class="t" textLength="10" lengthAdjust="spacingAndGlyphs">50</text>
<text x="1647.5" y="819" class="t" textLength="10" lengthAdjust="spacingAndGlyphs">15</text>
<text x="1647.5" y="828" class="t" textLength="5" lengthAdjust="spacingAndGlyphs">0</text>
<rect x="5" y="832" width="1" height="3" fill="#000"/>
<text x="3.5" y="844" class="t" textLength="52" lengthAdjust="spacingAndGlyphs">20 Apr 2023</text>
<rect x="69" y="832" width="1" height="3" fill="#000"/>
<text x="67.5" y="844" class="t" textLength="56" lengthAdjust="spacingAndGlyphs">21 Apr 04:00</text>
<rect x="133" y="832" width="1" height="3" fill="#000"/>
<text x="131.5" y="844" class="t" textLength="56" lengthAdjust="spacingAndGlyphs">23 Apr 23:00</text>
<rect x="197" y="832" width="1" height="3" fill="#000"/>
<text x="195.5" y="844" class="t" textLength="56" lengthAdjust="spacingAndGlyphs">24 Apr 12:00</text>
<rect x="261" y="832" width="1" height="3" fill="#000"/>
<text x="259.5" y="844" class="t" textLength="56" lengthAdjust="spacingAndGlyphs">25 Apr 04:00</text>
<rect x="325" y="832" width="1" height="3" fill="#000"/>
<text x="323.5" y="844" class="t" textLength="56" lengthAdjust="spacingAndGlyphs">25 Apr 20:00</text>
<rect x="389" y="832" width="1" height="3" fill="#000"/>
<text x="387.5" y="844" class="t" textLength="56" lengthAdjust="spacingAndGlyphs">26 Apr 12:00</text>
<rect x="453" y="832" width="1" height="3" fill="#000"/>
<text x="451.5" y="844" class="t" textLength="56" lengthAdjust="spacingAndGlyphs">27 Apr 04:00</text>
<rect x="517" y="832" width="1" height="3" fill="#000"/>
<text x="515.5" y="844" class="t" textLength="56" lengthAdjust="spacingAndGlyphs">27 Apr 20:00</text>
<rect x="581" y="832" width="1" height="3" fill="#000"/>
<text x="579.5" y="844" class="t" textLength="56" lengthAdjust="spacingAndGlyphs">28 Apr 12:00</text>
<rect x="645" y="832" width="1" height="3" fill="#000"/>
<text x="643.5" y="844" class="t" textLength="53" lengthAdjust="spacingAndGlyphs">1 May 04:00</text>
<rect x="709" y="832" width="1" height="3" fill="#000"/>
<text x="707.5" y="844" class="t" textLength="53" lengthAdjust="spacingAndGlyphs">1 May 20:00</text>
<rect x="773" y="832" width="1" height="3" fill="#000"/>
<text x="771.5" y="844" class="t" textLength="53" lengthAdjust="spacingAndGlyphs">2 May 12:00</text>
<rect x="837" y="832" width="1" height="3" fill="#000"/>
<text x="835.5" y="844" class="t" textLength="53" lengthAdjust="spacingAndGlyphs">3 May 04:00</text>
<rect x="901" y="832" width="1" height="3" fill="#000"/>
<text x="899.5" y="844" class="t" textLength="53" lengthAdjust="spacingAndGlyphs">3 May 20:00</text>
<rect x="965" y="832" width="1" height="3" fill="#000"/>
<text x="963.5" y="844" class="t" textLength="53" lengthAdjust="spacingAndGlyphs">4 May 12:00</text>
<rect x="1029" y="832" width="1" height="3" fill="#000"/>
<text x="1027.5" y="844" class="t" textLength="53" lengthAdjust="spacingAndGlyphs">5 May 04:00</text>
<rect x="1093" y="832" width="1" height="3" fill="#000"/>
<text x="1091.5" y="844" class="t" textLength="53" lengthAdjust="spacingAndGlyphs">7 May 23:00</text>
<rect x="1157" y="832" width="1" height="3" fill="#000"/>
<text x="1155.5" y="844" class="t" textLength="53" lengthAdjust="spacingAndGlyphs">8 May 12:00</text>
<rect x="1221" y="832" width="1" height="3" fill="#000"/>
<text x="1219.5" y="844" class="t" textLength="53" lengthAdjust="spacingAndGlyphs">9 May 04:00</text>
<rect x="1285" y="832" width="1" height="3" fill="#000"/>
<text x="1283.5" y="844" class="t" textLength="53" lengthAdjust="spacingAndGlyphs">9 May 20:00</text>
<defs><pattern id="dith" width="2" height="2" patternUnits="userSpaceOnUse"><rect width="2" height="2" fill="#ececec"/><rect width="1" height="1" fill="#ffffff"/><rect x="1" y="1" width="1" height="1" fill="#ffffff"/></pattern><linearGradient id="gplus" x1="0" y1="0" x2="0" y2="1"><stop offset="0" stop-color="#8dfc8d"/><stop offset="1" stop-color="#08c808"/></linearGradient><linearGradient id="gbook" x1="0" y1="0" x2="1" y2="1"><stop offset="0" stop-color="#f7d84a"/><stop offset="1" stop-color="#d9a410"/></linearGradient><linearGradient id="gcloud" x1="0" y1="0" x2="0" y2="1"><stop offset="0" stop-color="#ffffff"/><stop offset="1" stop-color="#c4cde0"/></linearGradient><linearGradient id="gbadge" x1="0" y1="0" x2="0" y2="1"><stop offset="0" stop-color="#ec5a34"/><stop offset="1" stop-color="#d2200a"/></linearGradient><linearGradient id="gsig" x1="0" y1="0" x2="1" y2="0.3"><stop offset="0" stop-color="#3a6ad8"/><stop offset="0.5" stop-color="#b8d0e8"/><stop offset="1" stop-color="#3a9a3a"/></linearGradient><linearGradient id="gsig2" x1="0" y1="0" x2="1" y2="0.3"><stop offset="0" stop-color="#5a86e0"/><stop offset="0.5" stop-color="#d0e0ee"/><stop offset="1" stop-color="#5aaa5a"/></linearGradient><radialGradient id="gclock" cx="0.4" cy="0.3" r="0.8"><stop offset="0" stop-color="#8ccaff"/><stop offset="0.7" stop-color="#1a7ae0"/><stop offset="1" stop-color="#0a4aa8"/></radialGradient></defs><rect x="5" y="0" width="1" height="20" fill="#a0a0a0"/><g shape-rendering="geometricPrecision"><path d="M15.5,2.5 H23.5 L26.5,5.5 V15.5 H15.5 Z" fill="#fff" stroke="#6a6a6a" stroke-width="1"/><path d="M23.5,2.5 V5.5 H26.5" fill="none" stroke="#6a6a6a" stroke-width="1"/><rect x="17" y="4" width="3" height="2" fill="#8a8a8a"/><rect x="17" y="8" width="6" height="1" fill="#9a9a9a"/><rect x="17" y="10" width="5" height="1" fill="#9a9a9a"/><rect x="17" y="12" width="4" height="1" fill="#9a9a9a"/><path d="M23,8 H27 V12 H31 V16 H27 V20 H23 V16 H19 V12 H23 Z" fill="#0a8a0a"/><path d="M24,9 H26 V13 H30 V15 H26 V19 H24 V15 H20 V13 H24 Z" fill="url(#gplus)"/></g><text x="34" y="13" style="font-family:'Liberation Sans','Noto Sans CJK SC',sans-serif;font-size:12px;font-stretch:normal" fill="#000">新订单</text><g shape-rendering="geometricPrecision"><path d="M87,3 L97,9.3 L97.9,12.3 L90.2,17.9 L81.7,12 L84.8,8.6 Z" fill="#a86a10"/><path d="M87.6,4.3 L95.9,9.6 L89.8,15.2 L83.2,11.3 L85.7,8.3 Z" fill="url(#gbook)"/><path d="M83,12.2 L89.9,16.4 L96.9,11.2" fill="none" stroke="#f0dc90" stroke-width="0.9"/></g><g shape-rendering="geometricPrecision"><path d="M112,3.2 L115.5,2 H123 V11 H112 Z" fill="#1896ee"/><path d="M112.6,3.2 L116,5.6 V11" fill="none" stroke="#c8eaff" stroke-width="0.9"/><rect x="117" y="6.6" width="5" height="1.4" fill="#e0f4ff"/><g fill="#3d5b98"><circle cx="112.8" cy="14.8" r="3.1"/><circle cx="118" cy="13.2" r="3.9"/><circle cx="122.8" cy="14.4" r="3.3"/><rect x="112.5" y="14" width="10.5" height="4"/></g><g fill="url(#gcloud)"><circle cx="112.8" cy="14.8" r="2.2"/><circle cx="118" cy="13.2" r="3"/><circle cx="122.8" cy="14.4" r="2.4"/><rect x="112.5" y="14" width="10.5" height="3.1"/></g></g><g shape-rendering="geometricPrecision" fill="none"><circle cx="146" cy="9.8" r="7.2" stroke="url(#gsig)" stroke-width="1.3"/><circle cx="146" cy="9.8" r="4.3" stroke="url(#gsig2)" stroke-width="1.2"/><circle cx="145.8" cy="9.6" r="1.9" fill="#2454c8"/><path d="M146.5,10 V17.6" stroke="#12a012" stroke-width="1.2"/></g><g shape-rendering="geometricPrecision"><path d="M165.3,9.3 L180.8,8.6 L178.5,17.6 L172.3,17.6 Z" fill="#f6df5a" stroke="#c89a10" stroke-width="0.8"/><path d="M165.4,7.6 C164.6,5.4 167.5,5 169.2,5.4 C169.3,2.6 171.5,2 173,2.1 C175,2 176.8,2.8 176.6,5 C178.8,4.4 181.4,4.6 180.9,6.4 C180,8.8 168.5,10.4 165.4,7.6 Z" fill="#66b6e6" stroke="#1a78ae" stroke-width="0.8"/><path d="M169.6,5.6 C171.5,6.6 174.5,6.4 176.4,5.2" fill="none" stroke="#2a88c0" stroke-width="0.6"/><circle cx="177.6" cy="13.7" r="4.3" fill="#dc2410" stroke="#a81000" stroke-width="0.6"/><rect x="176.1" y="12.1" width="3" height="3" fill="#ffffff"/></g><text x="186" y="13" style="font-family:'Liberation Sans','Noto Sans CJK SC',sans-serif;font-size:12px;font-stretch:normal" fill="#000">自动交易</text><rect x="241" y="0" width="1" height="21" fill="#a0a0a0"/><rect x="242" y="0" width="1" height="21" fill="#ffffff"/><rect x="245" y="0" width="4" height="1" fill="#a8a8a8"/><rect x="245" y="2" width="4" height="1" fill="#a8a8a8"/><rect x="245" y="4" width="4" height="1" fill="#a8a8a8"/><rect x="245" y="6" width="4" height="1" fill="#a8a8a8"/><rect x="245" y="8" width="4" height="1" fill="#a8a8a8"/><rect x="245" y="10" width="4" height="1" fill="#a8a8a8"/><rect x="245" y="12" width="4" height="1" fill="#a8a8a8"/><rect x="245" y="14" width="4" height="1" fill="#a8a8a8"/><rect x="245" y="16" width="4" height="1" fill="#a8a8a8"/><rect x="245" y="18" width="4" height="1" fill="#a8a8a8"/><rect x="259" y="5" width="1" height="13" fill="#555555"/><rect x="257" y="15" width="13" height="1" fill="#555555"/><path d="M259.5,4 L257,7 L262,7 Z" fill="#555555" shape-rendering="geometricPrecision"/><path d="M272,15.5 L269,13 L269,18 Z" fill="#555555" shape-rendering="geometricPrecision"/><rect x="265" y="5" width="1" height="9" fill="#0a8a0a"/><rect x="266" y="6" width="2" height="1" fill="#0a8a0a"/><rect x="263" y="12" width="2" height="1" fill="#0a8a0a"/><rect x="279" y="0" width="1" height="20" fill="#a0a0a0"/><rect x="280" y="0" width="24" height="20" fill="url(#dith)"/><rect x="304" y="0" width="1" height="21" fill="#ffffff"/><rect x="279" y="20" width="26" height="1" fill="#ffffff"/><rect x="287" y="5" width="1" height="13" fill="#555555"/><rect x="285" y="15" width="13" height="1" fill="#555555"/><path d="M287.5,4 L285,7 L290,7 Z" fill="#555555" shape-rendering="geometricPrecision"/><path d="M300,15.5 L297,13 L297,18 Z" fill="#555555" shape-rendering="geometricPrecision"/><rect x="293" y="2" width="1" height="12" fill="#0a8a0a"/><rect x="291.5" y="4.5" width="4" height="7" fill="#40e040" stroke="#0a8a0a" stroke-width="1"/><rect x="315" y="5" width="1" height="13" fill="#555555"/><rect x="313" y="15" width="13" height="1" fill="#555555"/><path d="M315.5,4 L313,7 L318,7 Z" fill="#555555" shape-rendering="geometricPrecision"/><path d="M328,15.5 L325,13 L325,18 Z" fill="#555555" shape-rendering="geometricPrecision"/><path d="M314,12.8 Q317,8 319.5,7 Q321.5,6.5 323.5,9 L325.8,10.8" fill="none" stroke="#1e8a1e" stroke-width="1.3" shape-rendering="geometricPrecision"/><rect x="336" y="0" width="1" height="20" fill="#a0a0a0"/><g shape-rendering="geometricPrecision"><path d="M354.5,12 L359.5,17" stroke="#b07810" stroke-width="3.2"/><path d="M354.5,12 L359.5,17" stroke="#f0d040" stroke-width="1.8"/><circle cx="351" cy="7.8" r="5.5" fill="#dff2ff" stroke="#2a6ec0" stroke-width="1"/></g><rect x="348" y="7" width="7" height="2" fill="#3f7ea8"/><rect x="350.5" y="4" width="2" height="7" fill="#3f7ea8"/><g shape-rendering="geometricPrecision"><path d="M382.5,12 L387.5,17" stroke="#b07810" stroke-width="3.2"/><path d="M382.5,12 L387.5,17" stroke="#f0d040" stroke-width="1.8"/><circle cx="379" cy="7.8" r="5.5" fill="#dff2ff" stroke="#2a6ec0" stroke-width="1"/></g><rect x="376" y="7" width="7" height="2" fill="#3f7ea8"/><rect x="401" y="2" width="8" height="8" fill="#2e9a1e"/><rect x="402" y="5" width="6" height="4" fill="#ffffff"/><rect x="403" y="6" width="4" height="1" fill="#9ad890"/><rect x="402" y="3" width="1" height="1" fill="#d0e8ff"/><rect x="409" y="2" width="8" height="8" fill="#1c4fd0"/><rect x="410" y="5" width="6" height="4" fill="#ffffff"/><rect x="411" y="6" width="4" height="1" fill="#1c4fd0"/><rect x="410" y="3" width="1" height="1" fill="#d0e8ff"/><rect x="401" y="10" width="8" height="8" fill="#1c4fd0"/><rect x="402" y="13" width="6" height="4" fill="#ffffff"/><rect x="403" y="14" width="4" height="1" fill="#1c4fd0"/><rect x="402" y="11" width="1" height="1" fill="#d0e8ff"/><rect x="409" y="10" width="8" height="8" fill="#2e9a1e"/><rect x="410" y="13" width="6" height="4" fill="#ffffff"/><rect x="411" y="14" width="4" height="1" fill="#9ad890"/><rect x="410" y="11" width="1" height="1" fill="#d0e8ff"/><rect x="426" y="0" width="1" height="20" fill="#a0a0a0"/><rect x="431" y="0" width="1" height="20" fill="#a0a0a0"/><rect x="432" y="0" width="24" height="20" fill="url(#dith)"/><rect x="456" y="0" width="1" height="21" fill="#ffffff"/><rect x="431" y="20" width="26" height="1" fill="#ffffff"/><rect x="439" y="5" width="1" height="13" fill="#555555"/><rect x="437" y="15" width="13" height="1" fill="#555555"/><path d="M439.5,4 L437,7 L442,7 Z" fill="#555555" shape-rendering="geometricPrecision"/><path d="M452,15.5 L449,13 L449,18 Z" fill="#555555" shape-rendering="geometricPrecision"/><path d="M444.5,6 L448.5,9.5 L444.5,13 Z" fill="#50e050" stroke="#0a8a0a" stroke-width="0.9" shape-rendering="geometricPrecision"/><rect x="459" y="0" width="1" height="20" fill="#a0a0a0"/><rect x="460" y="0" width="24" height="20" fill="url(#dith)"/><rect x="484" y="0" width="1" height="21" fill="#ffffff"/><rect x="459" y="20" width="26" height="1" fill="#ffffff"/><rect x="467" y="5" width="1" height="13" fill="#555555"/><rect x="465" y="15" width="13" height="1" fill="#555555"/><path d="M467.5,4 L465,7 L470,7 Z" fill="#555555" shape-rendering="geometricPrecision"/><path d="M480,15.5 L477,13 L477,18 Z" fill="#555555" shape-rendering="geometricPrecision"/><rect x="473" y="4" width="1" height="10" fill="#1a6aa0"/><path d="M474.5,9.5 L477.5,7 V8.8 H479.5 V10.2 H477.5 V12 Z" fill="#f06010" stroke="#902000" stroke-width="0.5" shape-rendering="geometricPrecision"/><rect x="488" y="0" width="1" height="20" fill="#a0a0a0"/><g shape-rendering="geometricPrecision"><path d="M498.5,2.5 H506.5 L509.5,5.5 V15.5 H498.5 Z" fill="#fff" stroke="#6a6a6a" stroke-width="1"/><path d="M502.5,5 Q501,5 501,7 V13" fill="none" stroke="#505050" stroke-width="0.9"/><path d="M506,8 H510 V12 H514 V16 H510 V20 H506 V16 H502 V12 H506 Z" fill="#0a8a0a"/><path d="M507,9 H509 V13 H513 V15 H509 V19 H507 V15 H503 V13 H507 Z" fill="url(#gplus)"/></g><rect x="520" y="9" width="6" height="1" fill="#000"/><rect x="521" y="10" width="4" height="1" fill="#000"/><rect x="522" y="11" width="2" height="1" fill="#000"/><g shape-rendering="geometricPrecision"><circle cx="544" cy="9.8" r="7.6" fill="#0c52b0"/><circle cx="544" cy="9.5" r="6.8" fill="url(#gclock)"/><circle cx="544" cy="9.9" r="4.9" fill="#f4f7fb" stroke="#9ab8e0" stroke-width="0.5"/><path d="M543.7,5.8 V10.2 H546.8" fill="none" stroke="#111" stroke-width="1.1"/></g><rect x="559" y="9" width="6" height="1" fill="#000"/><rect x="560" y="10" width="4" height="1" fill="#000"/><rect x="561" y="11" width="2" height="1" fill="#000"/><rect x="575" y="3" width="16" height="14" fill="#2a6ac0"/><rect x="576" y="4" width="14" height="2" fill="#6aa8e8"/><rect x="576" y="6" width="14" height="5" fill="#ffffff"/><rect x="576" y="12" width="14" height="4" fill="#ffffff"/><path d="M577,9.5 H579 L581,8 H582 L583,7 L585,8.2 H586.5 L588,7.2" fill="none" stroke="#a01808" stroke-width="1" shape-rendering="geometricPrecision"/><path d="M578,14.5 L580,13.5 L582,14.5 L584,12.5 L586,13 L588,14.5" fill="none" stroke="#109010" stroke-width="1" shape-rendering="geometricPrecision"/><rect x="598" y="9" width="6" height="1" fill="#000"/><rect x="599" y="10" width="4" height="1" fill="#000"/><rect x="600" y="11" width="2" height="1" fill="#000"/><rect x="609" y="0" width="1" height="21" fill="#a0a0a0"/><rect x="613" y="0" width="4" height="1" fill="#a8a8a8"/><rect x="613" y="2" width="4" height="1" fill="#a8a8a8"/><rect x="613" y="4" width="4" height="1" fill="#a8a8a8"/><rect x="613" y="6" width="4" height="1" fill="#a8a8a8"/><rect x="613" y="8" width="4" height="1" fill="#a8a8a8"/><rect x="613" y="10" width="4" height="1" fill="#a8a8a8"/><rect x="613" y="12" width="4" height="1" fill="#a8a8a8"/><rect x="613" y="14" width="4" height="1" fill="#a8a8a8"/><rect x="613" y="16" width="4" height="1" fill="#a8a8a8"/><rect x="613" y="18" width="4" height="1" fill="#a8a8a8"/><rect x="619" y="0" width="1" height="20" fill="#a0a0a0"/><rect x="620" y="0" width="24" height="20" fill="url(#dith)"/><rect x="644" y="0" width="1" height="21" fill="#ffffff"/><rect x="619" y="20" width="26" height="1" fill="#ffffff"/><path d="M627,2.7 V13.8 L629.8,11.4 L632,16.6 L634,15.6 L631.8,10.6 L635.2,10.5 Z" fill="#454545" shape-rendering="geometricPrecision"/><rect x="659" y="3" width="1.5" height="6" fill="#454545"/><rect x="659" y="12" width="1.5" height="6" fill="#454545"/><rect x="652" y="10" width="6" height="1.5" fill="#454545"/><rect x="662" y="10" width="6" height="1.5" fill="#454545"/><rect x="659" y="10" width="1.5" height="1.5" fill="#8a8a6a"/><rect x="676" y="0" width="1" height="20" fill="#a0a0a0"/><rect x="693" y="4" width="1.5" height="13" fill="#454545"/><rect x="716" y="10" width="12" height="1.5" fill="#454545"/><path d="M744.5,16.5 L756,5.5" stroke="#454545" stroke-width="1.3" shape-rendering="geometricPrecision"/><g shape-rendering="geometricPrecision" stroke="#3a3a3a" fill="none"><path d="M769.8,11.4 L777.8,3.9" stroke-width="1"/><path d="M775,16.8 L784,8.3" stroke-width="1"/><path d="M772,16.8 L773.3,9.2 M775.2,14.5 L776.4,7.6 M778.5,12.2 L779.6,5.3 M781.5,9.8 L781.8,2" stroke-width="1.5"/></g><text x="781" y="19" style="font-family:'Liberation Sans',sans-serif;font-size:7px;font-weight:bold" fill="#404040">E</text><rect x="799" y="3" width="1.2" height="1.2" fill="#404040"/><rect x="801" y="3" width="1.2" height="1.2" fill="#404040"/><rect x="803" y="3" width="1.2" height="1.2" fill="#404040"/><rect x="805" y="3" width="1.2" height="1.2" fill="#404040"/><rect x="807" y="3" width="1.2" height="1.2" fill="#404040"/><rect x="809" y="3" width="1.2" height="1.2" fill="#404040"/><rect x="811" y="3" width="1.2" height="1.2" fill="#404040"/><rect x="799" y="6" width="1.2" height="1.2" fill="#404040"/><rect x="801" y="6" width="1.2" height="1.2" fill="#404040"/><rect x="803" y="6" width="1.2" height="1.2" fill="#404040"/><rect x="805" y="6" width="1.2" height="1.2" fill="#404040"/><rect x="807" y="6" width="1.2" height="1.2" fill="#404040"/><rect x="809" y="6" width="1.2" height="1.2" fill="#404040"/><rect x="811" y="6" width="1.2" height="1.2" fill="#404040"/><rect x="799" y="10" width="1.2" height="1.2" fill="#404040"/><rect x="801" y="10" width="1.2" height="1.2" fill="#404040"/><rect x="803" y="10" width="1.2" height="1.2" fill="#404040"/><rect x="805" y="10" width="1.2" height="1.2" fill="#404040"/><rect x="807" y="10" width="1.2" height="1.2" fill="#404040"/><rect x="809" y="10" width="1.2" height="1.2" fill="#404040"/><rect x="811" y="10" width="1.2" height="1.2" fill="#404040"/><rect x="799" y="14" width="1.2" height="1.2" fill="#404040"/><rect x="801" y="14" width="1.2" height="1.2" fill="#404040"/><rect x="803" y="14" width="1.2" height="1.2" fill="#404040"/><rect x="805" y="14" width="1.2" height="1.2" fill="#404040"/><rect x="807" y="14" width="1.2" height="1.2" fill="#404040"/><text x="809" y="19.5" style="font-family:'Liberation Sans',sans-serif;font-size:7.5px;font-weight:bold" fill="#404040">F</text><text x="829.3" y="15" style="font-family:'Liberation Sans',sans-serif;font-size:12.5px" fill="#333333">A</text><rect x="856.5" y="4.5" width="11" height="12" fill="none" stroke="#404040" stroke-width="1" stroke-dasharray="1 1.2"/><rect x="859" y="7" width="7" height="1.5" fill="#505050"/><rect x="861.7" y="7" width="1.6" height="8" fill="#505050"/><g shape-rendering="geometricPrecision" fill="#3c3c3c"><path d="M882.8,7.6 L886.4,3.8 L890,7.6 L888.5,8.4 H884.3 Z"/><path d="M884.6,10.2 L887,13 L891.6,8" fill="none" stroke="#3c3c3c" stroke-width="1.5"/><path d="M890.2,12.6 L893.8,10.8 L897.4,12.6 L893.8,17.2 Z"/></g><rect x="904" y="9" width="6" height="1" fill="#000"/><rect x="905" y="10" width="4" height="1" fill="#000"/><rect x="906" y="11" width="2" height="1" fill="#000"/><rect x="915" y="0" width="1" height="21" fill="#a0a0a0"/><rect x="919" y="0" width="4" height="1" fill="#a8a8a8"/><rect x="919" y="2" width="4" height="1" fill="#a8a8a8"/><rect x="919" y="4" width="4" height="1" fill="#a8a8a8"/><rect x="919" y="6" width="4" height="1" fill="#a8a8a8"/><rect x="919" y="8" width="4" height="1" fill="#a8a8a8"/><rect x="919" y="10" width="4" height="1" fill="#a8a8a8"/><rect x="919" y="12" width="4" height="1" fill="#a8a8a8"/><rect x="919" y="14" width="4" height="1" fill="#a8a8a8"/><rect x="919" y="16" width="4" height="1" fill="#a8a8a8"/><rect x="919" y="18" width="4" height="1" fill="#a8a8a8"/><rect x="1065" y="0" width="1" height="20" fill="#a0a0a0"/><rect x="1066" y="0" width="24" height="20" fill="url(#dith)"/><rect x="1090" y="0" width="1" height="21" fill="#ffffff"/><rect x="1065" y="20" width="26" height="1" fill="#ffffff"/><text x="937" y="14" text-anchor="middle" style="font-size:9.2px;font-stretch:normal" fill="#444444">M1</text><text x="965" y="14" text-anchor="middle" style="font-size:9.2px;font-stretch:normal" fill="#444444">M5</text><text x="993" y="14" text-anchor="middle" style="font-size:9.2px;font-stretch:normal" fill="#444444">M15</text><text x="1021" y="14" text-anchor="middle" style="font-size:9.2px;font-stretch:normal" fill="#444444">M30</text><text x="1049" y="14" text-anchor="middle" style="font-size:9.2px;font-stretch:normal" fill="#444444">H1</text><text x="1077" y="14" text-anchor="middle" style="font-size:9.2px;font-stretch:normal" fill="#444444">H4</text><text x="1105" y="14" text-anchor="middle" style="font-size:9.2px;font-stretch:normal" fill="#444444">D1</text><text x="1133" y="14" text-anchor="middle" style="font-size:9.2px;font-stretch:normal" fill="#444444">W1</text><text x="1161" y="14" text-anchor="middle" style="font-size:9.2px;font-stretch:normal" fill="#444444">MN</text><rect x="1176" y="0" width="1" height="21" fill="#a0a0a0"/><g shape-rendering="geometricPrecision"><circle cx="1646.6" cy="7.4" r="3.7" fill="#f4f6ff" stroke="#2458d0" stroke-width="1.2"/><path d="M1643.8,10.2 L1639.6,14.4" stroke="#2458d0" stroke-width="2.2" stroke-linecap="round"/><path d="M1669,16.5 C1663,16.5 1662.5,8 1669.5,8 C1676,8 1676,16 1670,16.3 L1666.5,18.5 L1667.5,16 Z" fill="#e4e6ee" stroke="#9a9a9a" stroke-width="0.8"/><circle cx="1677.4" cy="7.3" r="8.2" fill="url(#gbadge)"/></g><text x="1676.8" y="11.9" text-anchor="middle" style="font-family:'DejaVu Sans',sans-serif;font-size:11.5px;font-weight:bold;font-stretch:normal" fill="#ffffff">1</text>
</svg></body></html>
